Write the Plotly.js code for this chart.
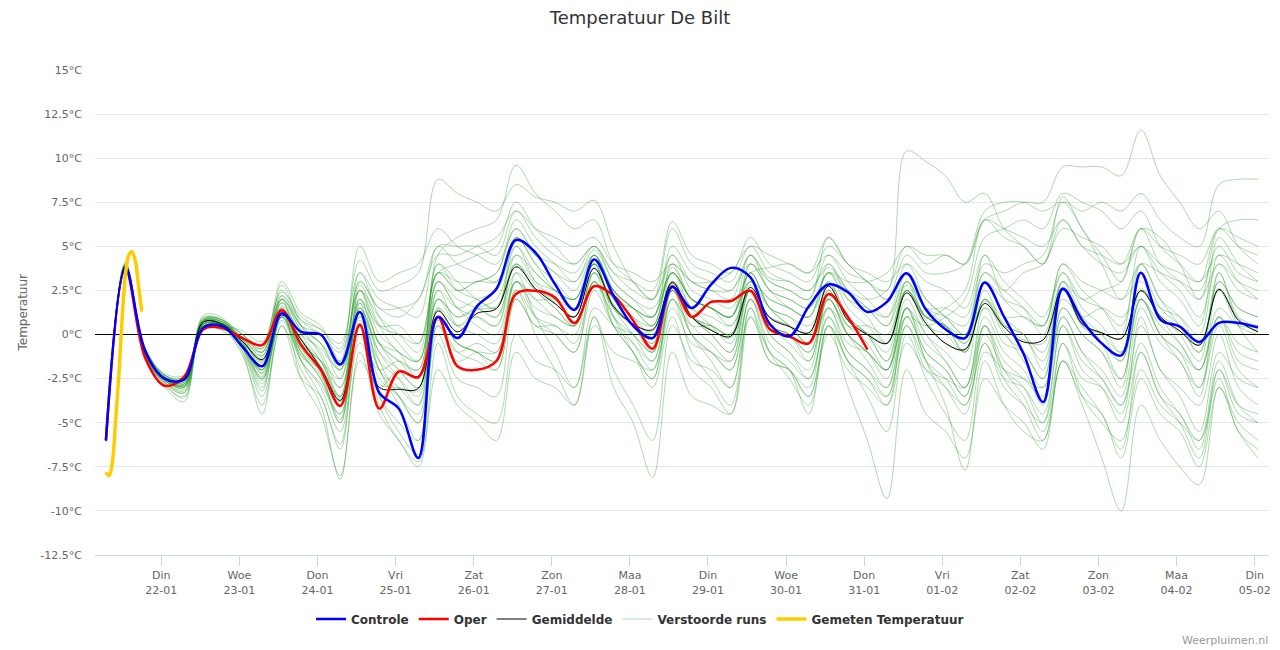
<!DOCTYPE html>
<html><head><meta charset="utf-8">
<script src="https://cdn.plot.ly/plotly-3.0.1.min.js"></script>
<style>html,body{margin:0;padding:0;background:#fff}#chart{width:1280px;height:650px}</style>
</head><body><div id="chart"></div>
<script>
// time grid: 6-hourly from 21-01 07:00 (local)
const startYear = 2019, startMonth = 0, startDay = 21, startHour = 7, stepHours = 6;
const dayTicks = ['2019-01-22','2019-01-23','2019-01-24','2019-01-25','2019-01-26','2019-01-27','2019-01-28','2019-01-29','2019-01-30','2019-01-31','2019-02-01','2019-02-02','2019-02-03','2019-02-04','2019-02-05'];
const dayNames = ['Din','Woe','Don','Vri','Zat','Zon','Maa','Din','Woe','Don','Vri','Zat','Zon','Maa','Din'];
const dayDates = ['22-01','23-01','24-01','25-01','26-01','27-01','28-01','29-01','30-01','31-01','01-02','02-02','03-02','04-02','05-02'];
const yTicks = [15,12.5,10,7.5,5,2.5,0,-2.5,-5,-7.5,-10,-12.5];
const yTickLabels = ['15°C','12.5°C','10°C','7.5°C','5°C','2.5°C','0°C','-2.5°C','-5°C','-7.5°C','-10°C','-12.5°C'];

const controle = [-6.0,3.8,-0.9,
 -2.5,-2.55,0.4,0.45, -0.7,-1.8,1.2,0.15, 0.0,-1.7,1.28,-3.3, -4.2,-7.0,1.0,-0.2,
 1.6,2.6,5.36,4.65, 2.85,1.4,4.26,2.2, 0.5,-0.2,2.7,1.5, 2.85,3.78,3.25,0.6,
 -0.1,1.6,2.84,2.4, 1.28,1.85,3.47,1.4, 0.3,-0.2,2.95,1.0, -1.1,-3.83,2.6,0.8,
 -0.5,-1.18,3.5,0.85, 0.45,-0.42,0.66,0.66, 0.4];
const oper = [-6.0,3.75,-1.3,
 -2.9,-2.4,0.3,0.35, -0.2,-0.6,1.38,-0.6, -2.0,-4.05,0.57,-4.2, -2.1,-2.4,1.0,-1.8,
 -2.0,-1.5,2.3,2.48, 2.1,0.65,2.74,2.2, 0.8,-0.8,2.74,1.0, 1.85,1.9,2.48,0.3,
 -0.1,-0.5,2.29,1.0, -0.85];
const gemiddelde = [-6.0,3.9,-1.0,
 -2.5,-2.55,0.72,0.55, -0.4,-1.42,1.1,-0.3, -1.9,-3.73,0.5,-3.0, -3.1,-3.05,1.34,0.15,
 1.2,1.47,3.84,2.6, 1.75,1.0,3.75,1.6, 0.6,0.28,2.93,1.0, 0.24,-0.1,2.67,0.95,
 0.45,0.1,2.74,0.8, 0.0,-0.5,2.36,0.62, -0.5,-0.85,1.76,0.43, -0.42,-0.3,2.61,0.6,
 0.1,-0.23,2.48,1.0, 0.2,-0.6,2.56,0.81, 0.15];
const gemetenTimes = ['2019-01-21 07:00','2019-01-21 08:00','2019-01-21 09:00','2019-01-21 10:00','2019-01-21 11:00','2019-01-21 12:00','2019-01-21 13:00','2019-01-21 14:00','2019-01-21 15:00','2019-01-21 16:00','2019-01-21 17:00','2019-01-21 18:00'];
const gemeten = [-7.8,-8.0,-7.2,-4.8,-2.2,1.0,3.4,4.5,4.7,4.2,2.8,1.3];

const ens01 = [-6.0,3.9,-0.9, -2.4,-2.6,0.7,0.6, -0.4,-1.5,1.2,-0.2, -1.8,-3.6,0.4,-2.8, -3.0,-3.2,1.5,0.5, 1.4,1.6,4.0,2.8, 1.8,1.0,3.8,1.7, 0.6,0.2,3.0,1.1, 0.3,-0.2,2.8,1.0, 0.5,0.1,2.9,0.8, 0.1,-0.5,2.5,0.8, -0.5,-0.8,1.9,0.6, -0.3,-0.5,2.7,0.6, 0.1,-0.2,2.6,1.1, 0.4,-0.6,2.6,0.9, 0.2];
const ens02 = [-6.1,3.7,-1.2, -2.8,-3.3,0.9,0.8, -0.8,-3.2,2.0,-1.5, -3.5,-6.2,1.8,-3.5, -5.5,-6.8,0.8,-1.0, -1.5,-2.0,2.5,1.0, 0.5,0.0,3.5,2.0, 1.5,1.0,4.5,3.0, 2.5,2.0,4.5,3.2, 3.0,2.5,3.8,2.5, 1.5,0.5,2.8,1.0, 0.5,-1.0,2.0,0.2, -1.5,-3.0,1.0,-1.0, -2.5,-4.0,0.5,-2.0, -3.5,-5.5,-1.0,-2.5, -3.0];
const ens03 = [-5.9,4.0,-0.7, -2.2,-2.3,0.5,0.5, 0.2,-0.4,2.4,1.0, 0.3,-0.8,4.2,2.5, 2.8,3.5,8.8,8.0, 7.5,7.0,8.5,7.8, 7.5,7.0,7.6,5.0, 3.0,2.0,4.5,2.5, 2.0,1.5,3.5,3.8, 4.0,3.5,4.5,3.0, 2.0,1.0,3.0,1.5, 1.0,0.5,3.5,2.5, 3.5,4.0,6.0,5.5, 5.0,4.0,5.0,3.5, 2.5,1.0,4.0,3.0, 2.5];
const ens04 = [-6.0,3.8,-1.4, -3.0,-3.8,1.1,0.9, -1.0,-4.5,1.5,-2.5, -4.5,-8.0,-1.0,-4.5, -6.0,-7.5,-2.0,-4.0, -5.0,-6.0,-1.0,-2.5, -3.0,-4.0,0.5,-1.0, -1.5,-2.0,2.0,0.0, -1.0,-1.5,2.5,0.5, 0.0,-1.0,1.5,-1.0, -2.0,-3.5,0.5,-1.5, -2.5,-4.0,-0.5,-2.5, -3.0,-4.5,0.5,-2.0, -3.0,-5.0,-1.0,-3.5, -4.5,-6.5,-2.0,-4.0, -4.5];
const ens05 = [-6.0,3.6,-1.0, -2.5,-2.9,0.4,0.3, -0.6,-2.0,1.0,-0.5, -1.5,-2.5,2.0,0.5, 0.5,-0.5,3.5,4.0, 4.5,5.0,7.5,6.0, 5.0,4.0,5.0,3.0, 2.0,1.5,3.5,1.5, 1.0,0.5,2.5,1.0, 0.5,-0.5,1.5,-0.5, -1.0,-2.0,1.0,0.5, 1.0,2.0,5.5,6.0, 6.5,6.0,8.0,7.5, 7.0,6.0,7.0,5.0, 4.0,3.0,6.0,5.5, 5.0];
const ens06 = [-6.0,3.9,-1.1, -2.7,-3.1,0.8,0.7, -0.3,-1.0,1.8,0.2, -1.0,-3.0,1.0,-1.5, -2.5,-3.5,1.0,-0.5, -1.0,-1.5,3.0,1.0, 0.0,-1.0,3.0,1.5, 0.5,-0.5,2.5,0.5, -0.5,-1.5,3.0,1.5, 1.0,0.5,2.0,0.0, -1.5,-3.0,1.5,-1.5, -3.0,-4.5,0.5,-2.5, -4.0,-6.0,-1.5,-3.5, -4.5,-7.0,-2.5,-4.5, -5.5,-7.5,-3.0,-5.0, -6.0];
const ens07 = [-6.0,4.1,-0.8, -2.3,-2.5,1.0,0.8, 0.0,-0.6,2.5,0.8, 0.0,-1.0,2.5,0.5, 0.0,-0.5,3.5,3.0, 3.0,3.5,6.0,4.5, 3.5,3.0,4.5,2.5, 1.5,1.0,5.0,3.5, 3.0,2.5,4.5,2.5, 2.0,1.5,3.5,2.0, 1.5,1.0,4.0,3.0, 2.5,1.5,4.5,3.0, 2.0,1.0,3.5,2.0, 1.5,0.5,4.0,3.5, 3.0,2.5,5.0,3.5, 3.0];
const ens08 = [-6.0,3.7,-1.3, -2.9,-3.5,0.6,0.4, -1.2,-4.0,0.5,-2.0, -4.0,-8.2,-1.5,-3.0, -2.0,-2.5,3.0,1.5, 0.5,0.0,3.0,2.0, 1.0,0.5,3.0,1.0, -0.5,-2.0,2.0,-1.0, -2.5,-4.0,1.5,-1.0, -2.0,-3.5,0.0,-2.0, -3.0,-4.0,-0.5,-2.0, -2.5,-3.0,1.5,0.5, 0.0,-1.0,2.5,1.0, 0.0,-1.5,2.0,0.0, -1.0,-2.0,1.5,0.5, 0.5];
const ens09 = [-6.0,3.8,-0.9, -2.6,-2.8,0.7,0.6, -0.5,-2.5,1.5,-1.0, -2.5,-5.0,2.5,-0.5, -1.5,-2.0,4.0,3.0, 2.0,1.5,5.5,4.0, 2.5,1.5,4.5,2.0, 0.5,-0.5,3.0,1.0, 0.0,-1.0,4.0,2.5, 1.5,1.0,3.0,1.0, 0.0,-1.5,2.0,0.0, -1.0,-2.0,3.0,2.0, 1.5,0.5,3.5,1.5, 0.5,-1.0,2.5,1.5, 1.0,0.0,4.5,3.0, 2.0];
const ens10 = [-6.0,3.9,-1.0, -2.5,-2.7,0.6,0.5, -0.6,-2.0,1.0,-1.0, -2.5,-4.5,0.5,-4.0, -6.0,-7.2,-0.5,-3.5, -4.5,-5.0,0.0,-1.5, -2.0,-3.0,1.5,0.5, 0.0,-1.0,2.5,1.0, 0.5,0.0,4.0,2.5, 2.0,1.5,3.5,1.5, 0.5,-0.5,2.5,0.5, 0.0,-1.0,2.0,1.0, 1.0,0.5,4.0,3.0, 2.5,2.0,3.0,1.0, -0.5,-2.0,1.0,-0.5, -1.0];
const ens11 = [-6.0,3.8,-1.0, -2.4,-2.5,0.8,0.7, -0.2,-1.2,1.5,0.0, -0.8,-2.0,1.0,-0.5, -1.0,-1.5,4.5,5.5, 6.0,6.5,9.6,8.0, 7.0,6.0,6.5,4.0, 3.0,2.0,6.0,4.0, 3.5,3.0,5.0,3.5, 3.0,2.5,4.0,2.0, 1.0,-0.5,3.0,1.5, 1.5,1.0,4.0,3.5, 4.0,4.5,7.5,7.0, 7.5,7.0,8.0,6.5, 5.5,5.0,8.5,8.8, 8.8];
const ens12 = [-6.0,3.7,-1.1, -2.6,-3.0,0.5,0.4, -0.8,-2.5,0.8,-1.5, -2.8,-4.5,1.5,-1.0, -2.5,-4.0,2.0,0.5, 1.0,0.5,3.5,2.5, 2.0,1.0,4.0,1.5, 0.0,-1.5,2.5,0.0, -1.0,-2.0,2.0,-0.5, -1.5,-2.5,1.0,-1.5, -2.5,-3.5,0.5,-2.0, -3.0,-4.0,-0.5,-3.0, -4.0,-5.0,-0.5,-3.5, -5.0,-6.0,-2.0,-4.0, -5.0,-6.0,-2.5,-5.5, -6.5];
const ens13 = [-6.0,4.0,-0.8, -2.3,-2.4,0.6,0.6, 0.0,-1.0,2.0,0.5, 0.0,-2.0,3.0,1.5, 1.5,2.0,5.0,5.0, 5.0,4.5,7.0,5.5, 4.5,4.0,5.0,3.5, 3.0,2.5,6.4,4.5, 4.0,3.5,5.5,4.0, 3.5,3.0,5.0,4.0, 3.0,2.5,10.4,9.8, 9.0,7.5,8.0,6.0, 5.0,4.0,6.5,5.0, 4.5,4.0,6.0,5.0, 4.5,4.0,6.0,5.0, 4.5];
const ens14 = [-6.0,3.9,-1.0, -2.5,-2.8,0.9,0.7, -0.3,-1.8,2.8,0.5, -1.2,-3.5,3.5,1.0, -0.5,-1.5,3.0,1.5, 1.0,0.5,4.5,3.0, 2.5,2.0,4.0,1.0, -1.0,-3.0,1.0,-2.0, -3.0,-4.5,1.5,-1.5, -2.0,-3.5,0.5,-1.5, -3.5,-5.5,0.0,-2.5, -4.5,-6.0,-1.0,-2.0, -2.5,-3.0,1.5,0.0, -1.0,-2.5,2.0,0.5, -0.5,-2.0,1.0,-1.5, -2.0];
const ens15 = [-6.0,3.8,-1.2, -2.7,-3.2,0.7,0.5, -0.7,-2.8,1.2,-1.0, -2.0,-4.0,2.5,0.0, -1.0,-2.5,2.0,1.0, 1.5,1.0,4.0,2.5, 1.5,0.5,3.5,0.5, -1.0,-2.5,1.5,-0.5, -1.0,-2.0,2.0,-1.0, -2.5,-4.0,0.5,-3.0, -6.0,-9.3,-2.0,-4.5, -5.5,-7.0,-2.5,-4.0, -5.0,-6.5,-1.5,-3.0, -4.5,-6.5,-1.0,-3.5, -5.0,-7.0,-2.0,-4.5, -5.0];
const ens16 = [-6.0,3.8,-0.9, -2.4,-2.7,0.8,0.6, -0.4,-1.3,1.6,0.0, -1.5,-3.5,1.8,-0.5, -2.0,-3.0,2.5,1.5, 2.0,2.5,5.0,3.5, 2.5,2.0,4.0,2.5, 1.5,0.5,3.5,2.0, 1.5,1.0,3.0,2.0, 1.5,1.0,3.5,2.5, 2.0,2.5,5.0,4.0, 4.5,4.0,6.5,7.0, 7.5,7.5,9.5,9.5, 9.5,9.0,11.6,9.0, 7.5,6.0,7.0,5.0, 4.0];
const ens17 = [-6.0,3.7,-1.3, -2.8,-3.6,0.4,0.2, -1.0,-3.5,0.5,-2.5, -3.5,-6.5,-0.5,-2.0, -1.5,-2.0,4.0,2.5, 2.0,1.5,5.0,3.0, 2.0,1.0,4.5,2.0, 1.0,0.0,3.0,1.0, 0.5,0.0,3.5,1.5, 1.0,0.0,2.5,0.5, 0.0,-1.0,3.0,1.0, 0.5,-0.5,2.5,0.5, 0.0,-2.0,3.0,0.5, -0.5,-1.5,4.0,2.0, 1.0,-0.5,2.5,0.5, 0.0];
const ens18 = [-6.0,3.9,-1.0, -2.5,-2.6,0.6,0.5, -0.5,-2.2,1.3,-0.8, -2.0,-4.0,2.0,-1.5, -3.5,-5.0,1.5,-0.5, -1.0,-1.5,3.5,1.0, -1.0,-3.0,1.0,-3.0, -5.0,-8.1,-1.0,-3.5, -4.0,-4.5,1.0,-1.5, -2.0,-3.0,1.5,0.0, -1.0,-2.0,2.5,1.0, 0.5,0.0,3.5,2.5, 1.5,0.0,3.0,1.0, -0.5,-2.5,2.0,0.0, -1.0,-3.0,1.0,-1.0, -1.5];
const ens19 = [-6.0,3.6,-1.1, -2.6,-2.9,0.8,0.6, -0.3,-1.5,2.2,0.5, -0.5,-2.0,3.0,1.5, 1.0,2.0,4.5,4.5, 5.0,5.5,7.0,6.0, 5.5,5.0,5.5,4.0, 3.5,3.0,4.0,3.0, 2.5,2.5,4.0,3.0, 2.5,2.0,4.5,3.5, 3.0,2.0,3.5,1.5, 0.5,-1.0,2.0,0.0, -1.0,-2.5,3.0,2.0, 2.5,3.0,6.0,5.5, 4.0,2.0,4.0,2.5, 2.0];
const ens20 = [-6.0,3.8,-1.0, -2.5,-2.9,0.7,0.6, -0.6,-2.4,1.0,-1.2, -2.0,-3.5,1.5,-2.0, -4.0,-6.0,0.5,-1.5, -1.0,-1.0,3.0,2.0, 2.0,1.5,4.0,2.5, 1.5,1.0,3.5,2.0, 1.5,0.5,2.5,0.0, -1.0,-2.5,1.0,-1.0, -2.0,-3.0,1.0,-1.5, -4.0,-7.7,-1.5,-4.0, -5.5,-6.0,-0.5,-2.5, -3.0,-4.5,1.0,-2.0, -3.0,-4.0,0.0,-3.0, -4.0];
const ens21 = [-6.0,4.0,-0.8, -2.3,-2.6,0.7,0.6, -0.2,-1.0,2.0,0.5, -0.5,-1.5,2.5,1.0, 0.0,-1.0,3.5,2.5, 3.0,3.0,5.5,4.0, 3.0,2.0,4.0,1.5, 0.5,-1.0,3.0,1.0, 0.0,-1.0,2.5,0.5, -0.5,-1.5,2.0,0.0, -1.0,-2.0,1.5,-1.0, -2.0,-3.5,0.5,-2.0, -3.5,-5.5,-1.5,-4.0, -7.0,-10.0,-4.0,-6.0, -7.5,-8.5,-3.0,-5.5, -7.0];
const ens22 = [-6.0,3.8,-1.1, -2.6,-3.0,0.9,0.8, -0.2,-0.8,3.0,1.2, 0.5,-1.5,5.0,3.0, 3.5,4.0,6.0,5.0, 4.5,4.0,6.0,4.5, 3.5,2.5,4.5,2.5, 1.5,0.5,4.0,2.0, 1.5,1.0,3.5,1.5, 0.5,-0.5,3.0,1.0, 0.0,-1.5,2.5,1.0, 1.5,2.5,6.5,5.5, 5.0,4.0,7.8,6.0, 4.5,3.0,6.0,4.0, 3.0,2.0,6.0,6.5, 6.5];
const ens23 = [-6.0,3.9,-0.9, -2.4,-2.6,0.5,0.4, -0.7,-2.0,1.4,-0.5, -1.5,-3.0,1.2,-2.0, -3.5,-4.5,2.5,0.5, 0.0,-0.5,3.0,1.5, 1.0,0.5,3.0,1.0, 0.0,-1.0,3.5,2.0, 1.5,1.0,4.5,3.0, 2.5,2.0,5.5,4.0, 3.5,3.0,4.0,2.0, 1.0,0.0,3.0,1.0, 0.0,-1.5,2.5,0.5, 0.0,-1.0,3.5,1.5, 0.5,-1.0,3.5,1.0, 0.5];
const ens24 = [-6.0,3.7,-1.0, -2.5,-2.8,0.6,0.5, -0.5,-2.0,1.2,-0.8, -2.2,-5.0,0.5,-2.5, -3.5,-5.0,0.0,-2.5, -3.0,-3.5,2.0,0.5, 0.0,-1.0,2.5,0.5, -0.5,-1.5,2.0,0.5, 0.5,0.0,2.5,0.5, 0.0,-1.0,2.0,0.5, 0.5,0.0,2.5,1.0, 0.5,-0.5,1.5,-0.5, -1.0,-2.5,2.0,1.0, 1.5,1.0,2.0,0.0, -1.5,-3.0,0.5,-2.0, -3.0];
const ens25 = [-6.0,3.8,-1.0, -2.5,-2.7,0.8,0.7, -0.3,-1.2,2.0,0.3, -0.5,-2.5,2.8,0.5, -1.0,-1.5,3.5,2.5, 3.0,3.5,6.5,5.0, 4.0,3.0,4.8,3.0, 2.0,1.0,3.5,2.0, 1.5,1.0,3.0,2.0, 1.5,1.0,3.5,3.0, 3.0,3.5,5.0,4.5, 4.5,4.0,6.5,6.0, 5.5,5.0,6.5,5.0, 4.0,3.5,5.0,4.0, 3.5,3.0,4.5,4.0, 3.5];
const ens26 = [-6.0,3.7,-1.2, -2.7,-3.3,0.6,0.5, -0.8,-3.0,1.0,-1.5, -3.0,-5.5,0.0,-3.5, -5.0,-6.0,0.5,-1.0, -0.5,-1.0,2.5,0.0, -2.0,-4.0,1.0,-2.0, -4.0,-6.0,0.5,-1.5, -2.0,-3.0,2.0,0.0, -1.0,-2.0,2.5,0.5, -0.5,-2.0,1.5,-0.5, -1.5,-3.0,1.0,-1.0, -2.0,-4.0,1.5,0.0, -1.0,-3.0,2.5,1.0, 0.0,-1.5,3.0,1.5, 1.0];
const ens27 = [-6.0,3.9,-1.0, -2.4,-2.6,0.8,0.6, -0.4,-1.6,1.8,-0.3, -1.5,-3.8,1.5,-1.0, -2.0,-3.0,2.0,1.0, 1.5,2.0,4.5,3.5, 2.5,2.0,4.5,2.5, 1.0,0.5,3.8,2.0, 1.5,1.0,3.5,1.5, 0.5,-0.5,4.0,2.5, 1.5,0.5,3.5,2.0, 1.0,0.0,4.5,2.0, 1.0,0.5,4.0,2.5, 1.5,0.0,5.0,3.0, 2.0,0.5,5.5,4.0, 3.0];
const ens28 = [-6.0,3.8,-1.1, -2.6,-3.0,0.7,0.5, -0.6,-2.6,1.0,-1.2, -2.3,-4.8,0.8,-2.0, -3.0,-4.0,1.0,-0.5, -1.0,-2.0,2.0,0.5, 0.5,-0.5,3.0,0.5, -1.0,-2.5,2.5,0.0, -1.5,-3.0,1.0,-1.0, -2.0,-4.5,0.5,-1.5, -2.5,-4.0,1.0,-1.0, -2.0,-3.5,0.0,-2.0, -3.0,-5.0,0.5,-1.5, -2.5,-4.0,-0.5,-3.0, -4.5,-6.0,-1.5,-4.0, -5.0];
const ens29 = [-6.0,4.0,-0.8, -2.3,-2.5,0.9,0.8, 0.0,-0.8,2.2,0.8, 0.3,-0.5,3.5,2.0, 1.5,1.0,5.0,4.0, 3.5,3.0,5.5,4.5, 4.0,3.5,5.0,3.5, 2.5,2.0,4.0,3.0, 3.0,3.5,5.0,4.5, 4.0,3.5,5.5,4.0, 3.0,2.0,4.5,3.5, 3.5,4.0,7.0,7.5, 7.5,7.0,7.5,6.0, 4.0,2.0,4.0,2.0, 0.5,-1.0,3.0,1.5, 1.0];
const ens30 = [-6.0,3.7,-1.0, -2.5,-2.9,0.5,0.4, -0.5,-2.2,1.3,-0.5, -1.8,-3.8,2.0,-0.5, -1.5,-2.5,3.0,2.0, 1.5,1.0,4.0,2.5, 1.5,0.5,3.5,1.5, 0.5,0.0,3.0,1.5, 0.5,-0.5,2.5,0.5, 0.0,-1.5,2.0,0.0, -1.0,-2.5,1.5,0.0, -1.5,-3.0,0.5,-1.5, -2.5,-3.5,1.0,-1.0, -2.0,-3.5,1.5,-0.5, -1.5,-3.5,3.5,0.5, -1.0];
const ensembles = [ens01,ens02,ens03,ens04,ens05,ens06,ens07,ens08,ens09,ens10,ens11,ens12,ens13,ens14,ens15,ens16,ens17,ens18,ens19,ens20,ens21,ens22,ens23,ens24,ens25,ens26,ens27,ens28,ens29,ens30];

function pad(n){return (n<10?'0':'')+n;}
function makeTimes(n){
  const out=[]; const t0=Date.UTC(startYear,startMonth,startDay,startHour);
  for(let i=0;i<n;i++){
    const d=new Date(t0+i*stepHours*3600000);
    out.push(d.getUTCFullYear()+'-'+pad(d.getUTCMonth()+1)+'-'+pad(d.getUTCDate())+' '+pad(d.getUTCHours())+':00');
  }
  return out;
}
const times = makeTimes(controle.length);

const traces = [];
ensembles.forEach((e,k)=>{
  traces.push({x: times.slice(0,e.length), y: e, type:'scatter', mode:'lines',
    name:'Verstoorde runs', legendgroup:'ens', showlegend: k===0, legendrank:4,
    line:{color:'rgba(30,150,30,0.36)', width:1, shape:'spline', smoothing:1}, hoverinfo:'skip'});
});
traces.push({x: times.slice(0,gemiddelde.length), y: gemiddelde, type:'scatter', mode:'lines', name:'Gemiddelde', legendrank:3,
  line:{color:'#000', width:1, shape:'spline', smoothing:1}});
traces.push({x: times.slice(0,oper.length), y: oper, type:'scatter', mode:'lines', name:'Oper', legendrank:2,
  line:{color:'#ff0000', width:2.5, shape:'spline', smoothing:1}});
traces.push({x: times.slice(0,controle.length), y: controle, type:'scatter', mode:'lines', name:'Controle', legendrank:1,
  line:{color:'#0000ff', width:2.5, shape:'spline', smoothing:1}});
traces.push({x: gemetenTimes, y: gemeten, type:'scatter', mode:'lines', name:'Gemeten Temperatuur', legendrank:5,
  line:{color:'#ffcc00', width:3.5, shape:'spline', smoothing:1}});

const layout = {
  width:1280, height:650,
  margin:{l:95, r:11, t:70, b:95},
  paper_bgcolor:'#fff', plot_bgcolor:'#fff',
  font:{family:'"DejaVu Sans", sans-serif', color:'#666', size:11},
  title:{text:'Temperatuur De Bilt', font:{size:18, color:'#333'}, x:0.5, xref:'container', xanchor:'center', y:1-18/650, yref:'container', yanchor:'middle'},
  xaxis:{type:'date', range:['2019-01-21 03:38','2019-02-05 04:24'],
    tickmode:'array', tickvals:dayTicks, ticktext:dayNames.map((n,i)=>n+'<br>'+dayDates[i]),
    showgrid:false, showline:true, linecolor:'#ccd6eb', linewidth:1, ticks:'outside', ticklen:10, tickcolor:'#ccd6eb',
    tickfont:{size:11, color:'#666'}, zeroline:false, fixedrange:true},
  yaxis:{range:[-12.5,15], tickmode:'array', tickvals:yTicks, ticktext:yTickLabels,
    showgrid:true, gridcolor:'#e6e6e6', gridwidth:1, zeroline:true, zerolinecolor:'#000', zerolinewidth:1,
    showline:false, ticks:'', ticklabelstandoff:12, tickfont:{size:11, color:'#666'}, fixedrange:true},
  legend:{orientation:'h', x:(640-95)/1174, xanchor:'center', y:(555-619)/485, yanchor:'middle',
    font:{size:12, color:'#333', weight:'bold'}, traceorder:'normal', bgcolor:'rgba(0,0,0,0)'},
  showlegend:true,
  annotations:[
    {text:'ECMWF 21 Jan 2019 00z', xref:'container', x:0.5, xanchor:'center', yref:'paper', y:1+(70-47)/485, yanchor:'middle', showarrow:false, font:{size:12, color:'#666'}},
    {text:'Temperatuur', xref:'paper', x:(22-95)/1174, xanchor:'center', yref:'paper', y:0.5, yanchor:'middle', textangle:-90, showarrow:false, font:{size:12, color:'#666'}},
    {text:'Weerpluimen.nl', xref:'paper', x:(1270-95)/1174, xanchor:'right', yref:'paper', y:(555-640)/485, yanchor:'middle', showarrow:false, font:{size:11, color:'#999'}}
  ]
};
Plotly.newPlot('chart', traces, layout, {displayModeBar:false, responsive:false});
</script>
</body></html>
